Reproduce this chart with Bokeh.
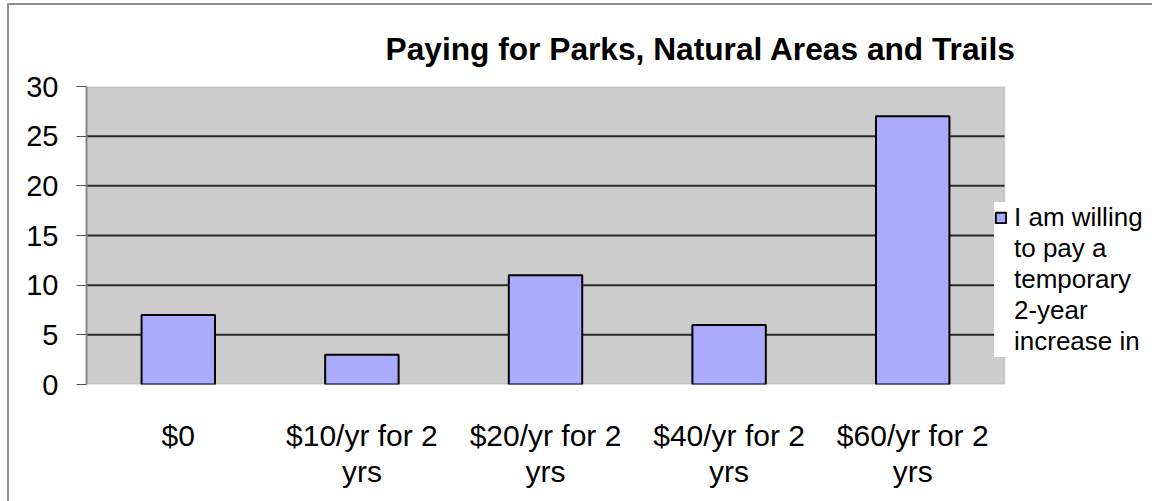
from bokeh.plotting import figure
from bokeh.models import ColumnDataSource, Legend, LegendItem, FixedTicker, BoxAnnotation
from bokeh.embed import file_html
from bokeh.resources import INLINE

categories = ["$0", "$10/yr for 2\nyrs", "$20/yr for 2\nyrs", "$40/yr for 2\nyrs", "$60/yr for 2\nyrs"]
values = [7, 3, 11, 6, 27]
series_name_lines = ["I am willing", "to pay a", "temporary", "2-year", "increase in"]
y_ticks = [0, 5, 10, 15, 20, 25, 30]

FONT = "Liberation Sans"

n = len(categories)
idx = list(range(n))
src = ColumnDataSource(dict(x=idx, val=values))

# plot area occupies n category slots; extra room on the right for the legend
extra = 148 / (918 / n)

p = figure(x_range=(-0.5, n - 0.5 + extra), y_range=(y_ticks[0], y_ticks[-1]),
           width=1152, height=501,
           output_backend="svg", toolbar_location=None,
           min_border_left=86, min_border_right=0, min_border_top=86, min_border_bottom=117,
           background_fill_color="white", border_fill_color="white", border_fill_alpha=0,
           styles={"background": "linear-gradient(#909090,#909090) 7px 3px / 2px 100% no-repeat, "
                                 "linear-gradient(#909090,#909090) 7px 3px / 100% 2px no-repeat, white"})

p.title.text = "Paying for Parks, Natural Areas and Trails"
p.title.text_font = FONT
p.title.text_font_size = "31.7px"
p.title.text_font_style = "bold"
p.title.text_color = "black"
p.title.align = "left"
p.title.offset = 299
p.title.standoff = 40

# grey plot area
area = BoxAnnotation(left=-0.5, right=n - 0.5, bottom=y_ticks[0], top=y_ticks[-1],
                     fill_color="#cccccc", fill_alpha=1, line_color="#999999", line_width=2,
                     level="underlay")
p.add_layout(area)

# horizontal grid lines inside the plot area
grid_y = y_ticks[1:-1]
p.segment(x0=[-0.5] * len(grid_y), x1=[n - 0.5] * len(grid_y), y0=grid_y, y1=grid_y,
          line_color="#2a2a2a", line_width=2)

r = p.vbar(x="x", top="val", width=0.4, source=src,
           fill_color="#aaaaff", line_color="black", line_width=2)

# invisible renderer used only to carry the continuation lines of the legend label
blank = p.vbar(x=[], top=[], width=0.4, fill_alpha=0, line_alpha=0)

p.outline_line_color = None
p.xgrid.grid_line_color = None
p.ygrid.grid_line_color = None

p.yaxis.ticker = FixedTicker(ticks=y_ticks)
p.yaxis.major_label_text_font = FONT
p.yaxis.major_label_text_font_size = "29px"
p.yaxis.major_label_text_color = "black"
p.yaxis.major_tick_out = 10
p.yaxis.major_tick_in = 0
p.yaxis.minor_tick_out = 0
p.yaxis.minor_tick_in = 0
p.yaxis.major_tick_line_color = "#555555"
p.yaxis.axis_line_color = "#888888"
p.yaxis.axis_line_width = 2
p.yaxis.major_label_standoff = 18

p.xaxis.ticker = FixedTicker(ticks=idx)
p.xaxis.major_label_overrides = {i: c for i, c in zip(idx, categories)}
p.xaxis.major_label_text_font = FONT
p.xaxis.major_label_text_font_size = "30px"
p.xaxis.major_label_text_color = "black"
p.xaxis.major_label_text_line_height = 1.1
p.xaxis.major_tick_out = 0
p.xaxis.major_tick_in = 0
p.xaxis.minor_tick_out = 0
p.xaxis.minor_tick_in = 0
p.xaxis.axis_line_color = None
p.xaxis.major_label_standoff = 34

items = [LegendItem(label=series_name_lines[0], renderers=[r])]
items += [LegendItem(label=t, renderers=[blank]) for t in series_name_lines[1:]]
legend = Legend(items=items, location=(908, 27), orientation="vertical")
legend.label_text_font = FONT
legend.label_text_font_size = "26px"
legend.label_text_color = "black"
legend.label_height = 31
legend.glyph_width = 13
legend.glyph_height = 13
legend.label_standoff = 7
legend.spacing = 0
legend.padding = 5
legend.margin = 0
legend.border_line_color = None
legend.background_fill_color = "white"
legend.background_fill_alpha = 1
p.add_layout(legend, "center")

open("out.html", "w").write(file_html(p, INLINE))
